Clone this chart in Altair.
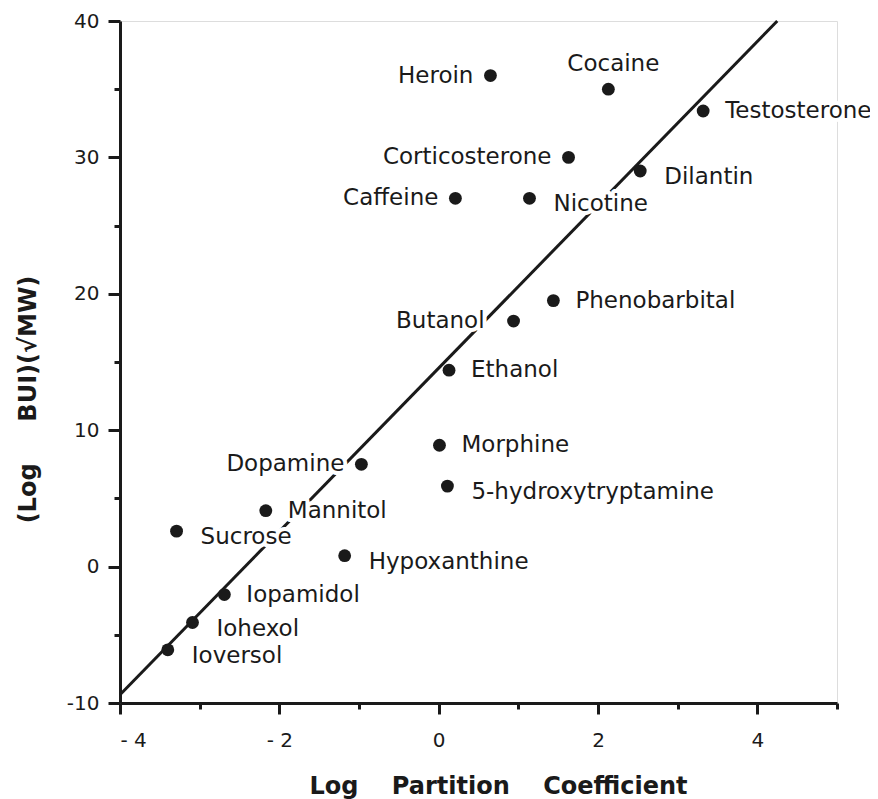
import altair as alt
import pandas as pd

# ---- data ----
names = ["Heroin", "Cocaine", "Testosterone", "Corticosterone", "Dilantin",
         "Caffeine", "Nicotine", "Phenobarbital", "Butanol", "Ethanol",
         "Morphine", "5-hydroxytryptamine", "Dopamine", "Mannitol", "Sucrose",
         "Hypoxanthine", "Iopamidol", "Iohexol", "Ioversol"]
log_partition = [0.65, 2.13, 3.32, 1.63, 2.53,
                 0.21, 1.14, 1.44, 0.94, 0.13,
                 0.01, 0.11, -0.97, -2.17, -3.29,
                 -1.18, -2.69, -3.09, -3.40]
log_bui_mw = [36.0, 35.0, 33.4, 30.0, 29.0,
              27.0, 27.0, 19.5, 18.0, 14.4,
              8.9, 5.9, 7.5, 4.1, 2.6,
              0.8, -2.05, -4.1, -6.1]
label_side = ["left", "above", "right", "left", "right_low",
              "left", "right_low", "right", "left_far", "right",
              "right", "right_low", "left", "right", "right_low",
              "right_low", "right", "right_low", "right_low"]

fit_x = [-4.0, 4.25]
fit_y = [-9.4, 40.0]

x_major = [-4, -2, 0, 2, 4]
x_minor = [-3, -1, 1, 3, 5]
y_major = [-10, 0, 10, 20, 30, 40]
y_minor = [-5, 5, 15, 25, 35]

df = pd.DataFrame({"name": names, "x": log_partition, "y": log_bui_mw, "side": label_side})
fit = pd.DataFrame({"x": fit_x, "y": fit_y})

W, H = 717, 682
INK = "#1a1a1a"
FONT = "DejaVu Sans"
NB = "\u00a0"

xs = alt.Scale(domain=[-4, 5], nice=False, zero=False)
ys = alt.Scale(domain=[-10, 40], nice=False, zero=False)

x_axis = alt.Axis(
    orient="bottom", values=x_major, grid=False,
    domainColor=INK, domainWidth=3, tickColor=INK, tickWidth=3, tickSize=11,
    labelFont=FONT, labelFontSize=20, labelColor=INK, labelPadding=16,
    labelExpr="datum.value < 0 ? '- ' + abs(datum.value) : '' + datum.value",
    title="Log" + NB * 4 + "Partition" + NB * 4 + "Coefficient",
    titleFont=FONT, titleFontSize=24, titleFontWeight="bold", titleColor=INK,
    titlePadding=24, titleX=378,
)
y_axis = alt.Axis(
    orient="left", values=y_major, grid=False,
    domainColor=INK, domainWidth=3, tickColor=INK, tickWidth=3, tickSize=12,
    labelFont=FONT, labelFontSize=20, labelColor=INK, labelPadding=9,
    labelExpr="datum.value < 0 ? '-' + abs(datum.value) : '' + datum.value",
    title="(Log" + NB * 5 + "BUI)(\u221aMW)",
    titleFont=FONT, titleFontSize=24, titleFontWeight="bold", titleColor=INK,
    titleX=-92, titleY=378, titleBaseline="middle", titleAlign="center",
)
x_minor_axis = alt.Axis(orient="bottom", values=x_minor, grid=False, domain=False,
                        labels=False, title=None, tickColor=INK, tickWidth=3, tickSize=6)
y_minor_axis = alt.Axis(orient="left", values=y_minor, grid=False, domain=False,
                        labels=False, title=None, tickColor=INK, tickWidth=3, tickSize=6)

line = alt.Chart(fit).mark_line(color=INK, strokeWidth=3).encode(
    x=alt.X("x:Q", scale=xs, axis=x_minor_axis),
    y=alt.Y("y:Q", scale=ys, axis=y_minor_axis),
)

placement = {
    "left": ("right", -17, 0),
    "left_far": ("right", -29, 0),
    "right": ("left", 22, 0),
    "right_low": ("left", 24, 6),
    "above": ("center", 5, -25),
}


def label_layer(side, halo):
    align, dx, dy = placement[side]
    if halo:
        mk = dict(fill="white", stroke="white", strokeWidth=8, strokeJoin="round")
    else:
        mk = dict(fill=INK)
    return alt.Chart(df).transform_filter(alt.datum.side == side).mark_text(
        align=align, baseline="middle", dx=dx, dy=dy, font=FONT, fontSize=23, **mk
    ).encode(
        x=alt.X("x:Q", scale=xs, axis=None),
        y=alt.Y("y:Q", scale=ys, axis=None),
        text="name:N",
    )


halos = [label_layer(s, True) for s in placement]
texts = [label_layer(s, False) for s in placement]

points = alt.Chart(df).mark_circle(size=165, color=INK, opacity=1).encode(
    x=alt.X("x:Q", scale=xs, axis=x_axis),
    y=alt.Y("y:Q", scale=ys, axis=y_axis),
)

chart = alt.layer(line, *halos, points, *texts).resolve_axis(
    x="independent", y="independent"
).properties(
    width=W, height=H,
    autosize=alt.AutoSizeParams(type="none"),
    padding={"left": 112, "top": 13, "right": 33, "bottom": 96},
).configure_view(stroke=None).configure(background="white")

chart.save("out.html", embed_options={"renderer": "svg", "actions": False})
